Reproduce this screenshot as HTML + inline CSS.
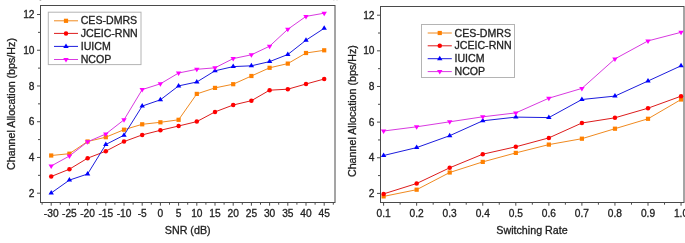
<!DOCTYPE html>
<html><head><meta charset="utf-8"><title>Channel Allocation</title>
<style>
html,body{margin:0;padding:0;background:#fff;}
body{width:685px;height:243px;overflow:hidden;}
svg{display:block;font-family:"Liberation Sans", sans-serif;font-size:10.2px;fill:#222;filter:blur(0.4px);}
svg text{fill:#222;stroke:#222;stroke-width:0.3px;}
svg .lg{font-size:10.6px;}
svg .al{font-size:10.72px;}
svg .yl{font-size:10.7px;}
</style></head>
<body>
<svg width="685" height="243" viewBox="0 0 685 243">
<rect width="685" height="243" fill="#fff"/>
<rect x="40.5" y="5.5" width="294.50" height="197.00" fill="none" stroke="#4a4a4a" stroke-width="1"/>
<line x1="37.0" y1="193.20" x2="40.5" y2="193.20" stroke="#4a4a4a" stroke-width="1"/>
<text x="34.5" y="196.80" text-anchor="end">2</text>
<line x1="38.0" y1="175.33" x2="40.5" y2="175.33" stroke="#4a4a4a" stroke-width="1"/>
<line x1="37.0" y1="157.46" x2="40.5" y2="157.46" stroke="#4a4a4a" stroke-width="1"/>
<text x="34.5" y="161.06" text-anchor="end">4</text>
<line x1="38.0" y1="139.59" x2="40.5" y2="139.59" stroke="#4a4a4a" stroke-width="1"/>
<line x1="37.0" y1="121.72" x2="40.5" y2="121.72" stroke="#4a4a4a" stroke-width="1"/>
<text x="34.5" y="125.32" text-anchor="end">6</text>
<line x1="38.0" y1="103.85" x2="40.5" y2="103.85" stroke="#4a4a4a" stroke-width="1"/>
<line x1="37.0" y1="85.98" x2="40.5" y2="85.98" stroke="#4a4a4a" stroke-width="1"/>
<text x="34.5" y="89.58" text-anchor="end">8</text>
<line x1="38.0" y1="68.11" x2="40.5" y2="68.11" stroke="#4a4a4a" stroke-width="1"/>
<line x1="37.0" y1="50.24" x2="40.5" y2="50.24" stroke="#4a4a4a" stroke-width="1"/>
<text x="34.5" y="53.84" text-anchor="end">10</text>
<line x1="38.0" y1="32.37" x2="40.5" y2="32.37" stroke="#4a4a4a" stroke-width="1"/>
<line x1="37.0" y1="14.50" x2="40.5" y2="14.50" stroke="#4a4a4a" stroke-width="1"/>
<text x="34.5" y="18.10" text-anchor="end">12</text>
<line x1="51.20" y1="202.5" x2="51.20" y2="205.7" stroke="#4a4a4a" stroke-width="1"/>
<text x="51.20" y="216.6" text-anchor="middle">-30</text>
<line x1="69.40" y1="202.5" x2="69.40" y2="205.7" stroke="#4a4a4a" stroke-width="1"/>
<text x="69.40" y="216.6" text-anchor="middle">-25</text>
<line x1="87.60" y1="202.5" x2="87.60" y2="205.7" stroke="#4a4a4a" stroke-width="1"/>
<text x="87.60" y="216.6" text-anchor="middle">-20</text>
<line x1="105.80" y1="202.5" x2="105.80" y2="205.7" stroke="#4a4a4a" stroke-width="1"/>
<text x="105.80" y="216.6" text-anchor="middle">-15</text>
<line x1="124.00" y1="202.5" x2="124.00" y2="205.7" stroke="#4a4a4a" stroke-width="1"/>
<text x="124.00" y="216.6" text-anchor="middle">-10</text>
<line x1="142.20" y1="202.5" x2="142.20" y2="205.7" stroke="#4a4a4a" stroke-width="1"/>
<text x="142.20" y="216.6" text-anchor="middle">-5</text>
<line x1="160.40" y1="202.5" x2="160.40" y2="205.7" stroke="#4a4a4a" stroke-width="1"/>
<text x="160.40" y="216.6" text-anchor="middle">0</text>
<line x1="178.60" y1="202.5" x2="178.60" y2="205.7" stroke="#4a4a4a" stroke-width="1"/>
<text x="178.60" y="216.6" text-anchor="middle">5</text>
<line x1="196.80" y1="202.5" x2="196.80" y2="205.7" stroke="#4a4a4a" stroke-width="1"/>
<text x="196.80" y="216.6" text-anchor="middle">10</text>
<line x1="215.00" y1="202.5" x2="215.00" y2="205.7" stroke="#4a4a4a" stroke-width="1"/>
<text x="215.00" y="216.6" text-anchor="middle">15</text>
<line x1="233.20" y1="202.5" x2="233.20" y2="205.7" stroke="#4a4a4a" stroke-width="1"/>
<text x="233.20" y="216.6" text-anchor="middle">20</text>
<line x1="251.40" y1="202.5" x2="251.40" y2="205.7" stroke="#4a4a4a" stroke-width="1"/>
<text x="251.40" y="216.6" text-anchor="middle">25</text>
<line x1="269.60" y1="202.5" x2="269.60" y2="205.7" stroke="#4a4a4a" stroke-width="1"/>
<text x="269.60" y="216.6" text-anchor="middle">30</text>
<line x1="287.80" y1="202.5" x2="287.80" y2="205.7" stroke="#4a4a4a" stroke-width="1"/>
<text x="287.80" y="216.6" text-anchor="middle">35</text>
<line x1="306.00" y1="202.5" x2="306.00" y2="205.7" stroke="#4a4a4a" stroke-width="1"/>
<text x="306.00" y="216.6" text-anchor="middle">40</text>
<line x1="324.20" y1="202.5" x2="324.20" y2="205.7" stroke="#4a4a4a" stroke-width="1"/>
<text x="324.20" y="216.6" text-anchor="middle">45</text>
<line x1="42.10" y1="202.5" x2="42.10" y2="204.7" stroke="#4a4a4a" stroke-width="1"/>
<line x1="60.30" y1="202.5" x2="60.30" y2="204.7" stroke="#4a4a4a" stroke-width="1"/>
<line x1="78.50" y1="202.5" x2="78.50" y2="204.7" stroke="#4a4a4a" stroke-width="1"/>
<line x1="96.70" y1="202.5" x2="96.70" y2="204.7" stroke="#4a4a4a" stroke-width="1"/>
<line x1="114.90" y1="202.5" x2="114.90" y2="204.7" stroke="#4a4a4a" stroke-width="1"/>
<line x1="133.10" y1="202.5" x2="133.10" y2="204.7" stroke="#4a4a4a" stroke-width="1"/>
<line x1="151.30" y1="202.5" x2="151.30" y2="204.7" stroke="#4a4a4a" stroke-width="1"/>
<line x1="169.50" y1="202.5" x2="169.50" y2="204.7" stroke="#4a4a4a" stroke-width="1"/>
<line x1="187.70" y1="202.5" x2="187.70" y2="204.7" stroke="#4a4a4a" stroke-width="1"/>
<line x1="205.90" y1="202.5" x2="205.90" y2="204.7" stroke="#4a4a4a" stroke-width="1"/>
<line x1="224.10" y1="202.5" x2="224.10" y2="204.7" stroke="#4a4a4a" stroke-width="1"/>
<line x1="242.30" y1="202.5" x2="242.30" y2="204.7" stroke="#4a4a4a" stroke-width="1"/>
<line x1="260.50" y1="202.5" x2="260.50" y2="204.7" stroke="#4a4a4a" stroke-width="1"/>
<line x1="278.70" y1="202.5" x2="278.70" y2="204.7" stroke="#4a4a4a" stroke-width="1"/>
<line x1="296.90" y1="202.5" x2="296.90" y2="204.7" stroke="#4a4a4a" stroke-width="1"/>
<line x1="315.10" y1="202.5" x2="315.10" y2="204.7" stroke="#4a4a4a" stroke-width="1"/>
<line x1="333.30" y1="202.5" x2="333.30" y2="204.7" stroke="#4a4a4a" stroke-width="1"/>
<polyline points="51.20,155.50 69.40,153.70 87.60,141.50 105.80,137.20 124.00,129.70 142.20,124.30 160.40,122.30 178.60,119.80 196.80,93.90 215.00,87.90 233.20,84.20 251.40,76.00 269.60,67.80 287.80,63.60 306.00,53.00 324.20,50.30" fill="none" stroke="#f08a20" stroke-width="1" stroke-linejoin="round"/>
<rect x="49.10" y="153.40" width="4.2" height="4.2" fill="#ff8000"/>
<rect x="67.30" y="151.60" width="4.2" height="4.2" fill="#ff8000"/>
<rect x="85.50" y="139.40" width="4.2" height="4.2" fill="#ff8000"/>
<rect x="103.70" y="135.10" width="4.2" height="4.2" fill="#ff8000"/>
<rect x="121.90" y="127.60" width="4.2" height="4.2" fill="#ff8000"/>
<rect x="140.10" y="122.20" width="4.2" height="4.2" fill="#ff8000"/>
<rect x="158.30" y="120.20" width="4.2" height="4.2" fill="#ff8000"/>
<rect x="176.50" y="117.70" width="4.2" height="4.2" fill="#ff8000"/>
<rect x="194.70" y="91.80" width="4.2" height="4.2" fill="#ff8000"/>
<rect x="212.90" y="85.80" width="4.2" height="4.2" fill="#ff8000"/>
<rect x="231.10" y="82.10" width="4.2" height="4.2" fill="#ff8000"/>
<rect x="249.30" y="73.90" width="4.2" height="4.2" fill="#ff8000"/>
<rect x="267.50" y="65.70" width="4.2" height="4.2" fill="#ff8000"/>
<rect x="285.70" y="61.50" width="4.2" height="4.2" fill="#ff8000"/>
<rect x="303.90" y="50.90" width="4.2" height="4.2" fill="#ff8000"/>
<rect x="322.10" y="48.20" width="4.2" height="4.2" fill="#ff8000"/>
<polyline points="51.20,176.50 69.40,169.20 87.60,158.20 105.80,151.20 124.00,141.60 142.20,134.90 160.40,130.30 178.60,126.00 196.80,121.60 215.00,111.90 233.20,105.00 251.40,100.70 269.60,90.20 287.80,89.20 306.00,84.00 324.20,79.00" fill="none" stroke="#dd1c1c" stroke-width="1" stroke-linejoin="round"/>
<circle cx="51.20" cy="176.50" r="2.25" fill="#ff0000"/>
<circle cx="69.40" cy="169.20" r="2.25" fill="#ff0000"/>
<circle cx="87.60" cy="158.20" r="2.25" fill="#ff0000"/>
<circle cx="105.80" cy="151.20" r="2.25" fill="#ff0000"/>
<circle cx="124.00" cy="141.60" r="2.25" fill="#ff0000"/>
<circle cx="142.20" cy="134.90" r="2.25" fill="#ff0000"/>
<circle cx="160.40" cy="130.30" r="2.25" fill="#ff0000"/>
<circle cx="178.60" cy="126.00" r="2.25" fill="#ff0000"/>
<circle cx="196.80" cy="121.60" r="2.25" fill="#ff0000"/>
<circle cx="215.00" cy="111.90" r="2.25" fill="#ff0000"/>
<circle cx="233.20" cy="105.00" r="2.25" fill="#ff0000"/>
<circle cx="251.40" cy="100.70" r="2.25" fill="#ff0000"/>
<circle cx="269.60" cy="90.20" r="2.25" fill="#ff0000"/>
<circle cx="287.80" cy="89.20" r="2.25" fill="#ff0000"/>
<circle cx="306.00" cy="84.00" r="2.25" fill="#ff0000"/>
<circle cx="324.20" cy="79.00" r="2.25" fill="#ff0000"/>
<polyline points="51.20,193.00 69.40,180.10 87.60,174.00 105.80,144.50 124.00,135.20 142.20,106.10 160.40,99.80 178.60,85.90 196.80,82.00 215.00,70.80 233.20,66.60 251.40,65.80 269.60,61.60 287.80,54.50 306.00,40.20 324.20,28.30" fill="none" stroke="#1c1cdd" stroke-width="1" stroke-linejoin="round"/>
<path d="M51.20 190.00L53.90 194.50L48.50 194.50Z" fill="#0000ff"/>
<path d="M69.40 177.10L72.10 181.60L66.70 181.60Z" fill="#0000ff"/>
<path d="M87.60 171.00L90.30 175.50L84.90 175.50Z" fill="#0000ff"/>
<path d="M105.80 141.50L108.50 146.00L103.10 146.00Z" fill="#0000ff"/>
<path d="M124.00 132.20L126.70 136.70L121.30 136.70Z" fill="#0000ff"/>
<path d="M142.20 103.10L144.90 107.60L139.50 107.60Z" fill="#0000ff"/>
<path d="M160.40 96.80L163.10 101.30L157.70 101.30Z" fill="#0000ff"/>
<path d="M178.60 82.90L181.30 87.40L175.90 87.40Z" fill="#0000ff"/>
<path d="M196.80 79.00L199.50 83.50L194.10 83.50Z" fill="#0000ff"/>
<path d="M215.00 67.80L217.70 72.30L212.30 72.30Z" fill="#0000ff"/>
<path d="M233.20 63.60L235.90 68.10L230.50 68.10Z" fill="#0000ff"/>
<path d="M251.40 62.80L254.10 67.30L248.70 67.30Z" fill="#0000ff"/>
<path d="M269.60 58.60L272.30 63.10L266.90 63.10Z" fill="#0000ff"/>
<path d="M287.80 51.50L290.50 56.00L285.10 56.00Z" fill="#0000ff"/>
<path d="M306.00 37.20L308.70 41.70L303.30 41.70Z" fill="#0000ff"/>
<path d="M324.20 25.30L326.90 29.80L321.50 29.80Z" fill="#0000ff"/>
<polyline points="51.20,166.00 69.40,156.00 87.60,141.80 105.80,134.00 124.00,119.80 142.20,89.60 160.40,83.80 178.60,73.00 196.80,69.30 215.00,67.80 233.20,58.60 251.40,54.80 269.60,46.20 287.80,29.30 306.00,16.40 324.20,13.20" fill="none" stroke="#d83ae0" stroke-width="1" stroke-linejoin="round"/>
<path d="M51.20 169.00L53.90 164.50L48.50 164.50Z" fill="#ff00ff"/>
<path d="M69.40 159.00L72.10 154.50L66.70 154.50Z" fill="#ff00ff"/>
<path d="M87.60 144.80L90.30 140.30L84.90 140.30Z" fill="#ff00ff"/>
<path d="M105.80 137.00L108.50 132.50L103.10 132.50Z" fill="#ff00ff"/>
<path d="M124.00 122.80L126.70 118.30L121.30 118.30Z" fill="#ff00ff"/>
<path d="M142.20 92.60L144.90 88.10L139.50 88.10Z" fill="#ff00ff"/>
<path d="M160.40 86.80L163.10 82.30L157.70 82.30Z" fill="#ff00ff"/>
<path d="M178.60 76.00L181.30 71.50L175.90 71.50Z" fill="#ff00ff"/>
<path d="M196.80 72.30L199.50 67.80L194.10 67.80Z" fill="#ff00ff"/>
<path d="M215.00 70.80L217.70 66.30L212.30 66.30Z" fill="#ff00ff"/>
<path d="M233.20 61.60L235.90 57.10L230.50 57.10Z" fill="#ff00ff"/>
<path d="M251.40 57.80L254.10 53.30L248.70 53.30Z" fill="#ff00ff"/>
<path d="M269.60 49.20L272.30 44.70L266.90 44.70Z" fill="#ff00ff"/>
<path d="M287.80 32.30L290.50 27.80L285.10 27.80Z" fill="#ff00ff"/>
<path d="M306.00 19.40L308.70 14.90L303.30 14.90Z" fill="#ff00ff"/>
<path d="M324.20 16.20L326.90 11.70L321.50 11.70Z" fill="#ff00ff"/>
<rect x="48.3" y="12.2" width="92.7" height="52.4" fill="#fff" stroke="#b4b4b4" stroke-width="1"/>
<line x1="54" y1="20.8" x2="78" y2="20.8" stroke="#f08a20" stroke-width="1"/>
<rect x="63.90" y="18.70" width="4.2" height="4.2" fill="#ff8000"/>
<text x="80.7" y="24.400000000000002" class="lg">CES-DMRS</text>
<line x1="54" y1="33.4" x2="78" y2="33.4" stroke="#dd1c1c" stroke-width="1"/>
<circle cx="66.00" cy="33.40" r="2.25" fill="#ff0000"/>
<text x="80.7" y="37.0" class="lg">JCEIC-RNN</text>
<line x1="54" y1="46.4" x2="78" y2="46.4" stroke="#1c1cdd" stroke-width="1"/>
<path d="M66.00 43.40L68.70 47.90L63.30 47.90Z" fill="#0000ff"/>
<text x="80.7" y="50.0" class="lg">IUICM</text>
<line x1="54" y1="59.5" x2="78" y2="59.5" stroke="#d83ae0" stroke-width="1"/>
<path d="M66.00 62.50L68.70 58.00L63.30 58.00Z" fill="#ff00ff"/>
<text x="80.7" y="63.1" class="lg">NCOP</text>
<text x="187.7" y="233.8" text-anchor="middle" class="al">SNR (dB)</text>
<text transform="translate(15.4 104) rotate(-90)" text-anchor="middle" class="yl">Channel Allocation (bps/Hz)</text>
<rect x="380.5" y="6.5" width="303.50" height="196.00" fill="none" stroke="#4a4a4a" stroke-width="1"/>
<line x1="377.0" y1="193.40" x2="380.5" y2="193.40" stroke="#4a4a4a" stroke-width="1"/>
<text x="374.5" y="197.00" text-anchor="end">2</text>
<line x1="378.0" y1="175.58" x2="380.5" y2="175.58" stroke="#4a4a4a" stroke-width="1"/>
<line x1="377.0" y1="157.76" x2="380.5" y2="157.76" stroke="#4a4a4a" stroke-width="1"/>
<text x="374.5" y="161.36" text-anchor="end">4</text>
<line x1="378.0" y1="139.94" x2="380.5" y2="139.94" stroke="#4a4a4a" stroke-width="1"/>
<line x1="377.0" y1="122.12" x2="380.5" y2="122.12" stroke="#4a4a4a" stroke-width="1"/>
<text x="374.5" y="125.72" text-anchor="end">6</text>
<line x1="378.0" y1="104.30" x2="380.5" y2="104.30" stroke="#4a4a4a" stroke-width="1"/>
<line x1="377.0" y1="86.48" x2="380.5" y2="86.48" stroke="#4a4a4a" stroke-width="1"/>
<text x="374.5" y="90.08" text-anchor="end">8</text>
<line x1="378.0" y1="68.66" x2="380.5" y2="68.66" stroke="#4a4a4a" stroke-width="1"/>
<line x1="377.0" y1="50.84" x2="380.5" y2="50.84" stroke="#4a4a4a" stroke-width="1"/>
<text x="374.5" y="54.44" text-anchor="end">10</text>
<line x1="378.0" y1="33.02" x2="380.5" y2="33.02" stroke="#4a4a4a" stroke-width="1"/>
<line x1="377.0" y1="15.20" x2="380.5" y2="15.20" stroke="#4a4a4a" stroke-width="1"/>
<text x="374.5" y="18.80" text-anchor="end">12</text>
<line x1="383.60" y1="202.5" x2="383.60" y2="205.7" stroke="#4a4a4a" stroke-width="1"/>
<text x="383.60" y="216.6" text-anchor="middle">0.1</text>
<line x1="416.65" y1="202.5" x2="416.65" y2="205.7" stroke="#4a4a4a" stroke-width="1"/>
<text x="416.65" y="216.6" text-anchor="middle">0.2</text>
<line x1="449.70" y1="202.5" x2="449.70" y2="205.7" stroke="#4a4a4a" stroke-width="1"/>
<text x="449.70" y="216.6" text-anchor="middle">0.3</text>
<line x1="482.75" y1="202.5" x2="482.75" y2="205.7" stroke="#4a4a4a" stroke-width="1"/>
<text x="482.75" y="216.6" text-anchor="middle">0.4</text>
<line x1="515.80" y1="202.5" x2="515.80" y2="205.7" stroke="#4a4a4a" stroke-width="1"/>
<text x="515.80" y="216.6" text-anchor="middle">0.5</text>
<line x1="548.85" y1="202.5" x2="548.85" y2="205.7" stroke="#4a4a4a" stroke-width="1"/>
<text x="548.85" y="216.6" text-anchor="middle">0.6</text>
<line x1="581.90" y1="202.5" x2="581.90" y2="205.7" stroke="#4a4a4a" stroke-width="1"/>
<text x="581.90" y="216.6" text-anchor="middle">0.7</text>
<line x1="614.95" y1="202.5" x2="614.95" y2="205.7" stroke="#4a4a4a" stroke-width="1"/>
<text x="614.95" y="216.6" text-anchor="middle">0.8</text>
<line x1="648.00" y1="202.5" x2="648.00" y2="205.7" stroke="#4a4a4a" stroke-width="1"/>
<text x="648.00" y="216.6" text-anchor="middle">0.9</text>
<line x1="681.05" y1="202.5" x2="681.05" y2="205.7" stroke="#4a4a4a" stroke-width="1"/>
<text x="681.05" y="216.6" text-anchor="middle">1.0</text>
<line x1="400.13" y1="202.5" x2="400.13" y2="204.7" stroke="#4a4a4a" stroke-width="1"/>
<line x1="433.18" y1="202.5" x2="433.18" y2="204.7" stroke="#4a4a4a" stroke-width="1"/>
<line x1="466.23" y1="202.5" x2="466.23" y2="204.7" stroke="#4a4a4a" stroke-width="1"/>
<line x1="499.28" y1="202.5" x2="499.28" y2="204.7" stroke="#4a4a4a" stroke-width="1"/>
<line x1="532.33" y1="202.5" x2="532.33" y2="204.7" stroke="#4a4a4a" stroke-width="1"/>
<line x1="565.38" y1="202.5" x2="565.38" y2="204.7" stroke="#4a4a4a" stroke-width="1"/>
<line x1="598.42" y1="202.5" x2="598.42" y2="204.7" stroke="#4a4a4a" stroke-width="1"/>
<line x1="631.47" y1="202.5" x2="631.47" y2="204.7" stroke="#4a4a4a" stroke-width="1"/>
<line x1="664.52" y1="202.5" x2="664.52" y2="204.7" stroke="#4a4a4a" stroke-width="1"/>
<polyline points="383.60,196.40 416.65,189.70 449.70,172.50 482.75,161.90 515.80,152.90 548.85,144.60 581.90,138.70 614.95,128.70 648.00,118.80 681.05,99.50" fill="none" stroke="#f08a20" stroke-width="1" stroke-linejoin="round"/>
<rect x="381.50" y="194.30" width="4.2" height="4.2" fill="#ff8000"/>
<rect x="414.55" y="187.60" width="4.2" height="4.2" fill="#ff8000"/>
<rect x="447.60" y="170.40" width="4.2" height="4.2" fill="#ff8000"/>
<rect x="480.65" y="159.80" width="4.2" height="4.2" fill="#ff8000"/>
<rect x="513.70" y="150.80" width="4.2" height="4.2" fill="#ff8000"/>
<rect x="546.75" y="142.50" width="4.2" height="4.2" fill="#ff8000"/>
<rect x="579.80" y="136.60" width="4.2" height="4.2" fill="#ff8000"/>
<rect x="612.85" y="126.60" width="4.2" height="4.2" fill="#ff8000"/>
<rect x="645.90" y="116.70" width="4.2" height="4.2" fill="#ff8000"/>
<rect x="678.95" y="97.40" width="4.2" height="4.2" fill="#ff8000"/>
<polyline points="383.60,193.90 416.65,183.50 449.70,167.80 482.75,154.20 515.80,146.80 548.85,137.90 581.90,123.00 614.95,117.80 648.00,108.20 681.05,96.20" fill="none" stroke="#dd1c1c" stroke-width="1" stroke-linejoin="round"/>
<circle cx="383.60" cy="193.90" r="2.25" fill="#ff0000"/>
<circle cx="416.65" cy="183.50" r="2.25" fill="#ff0000"/>
<circle cx="449.70" cy="167.80" r="2.25" fill="#ff0000"/>
<circle cx="482.75" cy="154.20" r="2.25" fill="#ff0000"/>
<circle cx="515.80" cy="146.80" r="2.25" fill="#ff0000"/>
<circle cx="548.85" cy="137.90" r="2.25" fill="#ff0000"/>
<circle cx="581.90" cy="123.00" r="2.25" fill="#ff0000"/>
<circle cx="614.95" cy="117.80" r="2.25" fill="#ff0000"/>
<circle cx="648.00" cy="108.20" r="2.25" fill="#ff0000"/>
<circle cx="681.05" cy="96.20" r="2.25" fill="#ff0000"/>
<polyline points="383.60,155.50 416.65,147.60 449.70,135.70 482.75,120.80 515.80,117.10 548.85,117.60 581.90,99.50 614.95,96.10 648.00,81.00 681.05,65.80" fill="none" stroke="#1c1cdd" stroke-width="1" stroke-linejoin="round"/>
<path d="M383.60 152.50L386.30 157.00L380.90 157.00Z" fill="#0000ff"/>
<path d="M416.65 144.60L419.35 149.10L413.95 149.10Z" fill="#0000ff"/>
<path d="M449.70 132.70L452.40 137.20L447.00 137.20Z" fill="#0000ff"/>
<path d="M482.75 117.80L485.45 122.30L480.05 122.30Z" fill="#0000ff"/>
<path d="M515.80 114.10L518.50 118.60L513.10 118.60Z" fill="#0000ff"/>
<path d="M548.85 114.60L551.55 119.10L546.15 119.10Z" fill="#0000ff"/>
<path d="M581.90 96.50L584.60 101.00L579.20 101.00Z" fill="#0000ff"/>
<path d="M614.95 93.10L617.65 97.60L612.25 97.60Z" fill="#0000ff"/>
<path d="M648.00 78.00L650.70 82.50L645.30 82.50Z" fill="#0000ff"/>
<path d="M681.05 62.80L683.75 67.30L678.35 67.30Z" fill="#0000ff"/>
<polyline points="383.60,131.00 416.65,126.80 449.70,121.80 482.75,116.80 515.80,112.90 548.85,98.20 581.90,88.40 614.95,58.90 648.00,40.90 681.05,32.30" fill="none" stroke="#d83ae0" stroke-width="1" stroke-linejoin="round"/>
<path d="M383.60 134.00L386.30 129.50L380.90 129.50Z" fill="#ff00ff"/>
<path d="M416.65 129.80L419.35 125.30L413.95 125.30Z" fill="#ff00ff"/>
<path d="M449.70 124.80L452.40 120.30L447.00 120.30Z" fill="#ff00ff"/>
<path d="M482.75 119.80L485.45 115.30L480.05 115.30Z" fill="#ff00ff"/>
<path d="M515.80 115.90L518.50 111.40L513.10 111.40Z" fill="#ff00ff"/>
<path d="M548.85 101.20L551.55 96.70L546.15 96.70Z" fill="#ff00ff"/>
<path d="M581.90 91.40L584.60 86.90L579.20 86.90Z" fill="#ff00ff"/>
<path d="M614.95 61.90L617.65 57.40L612.25 57.40Z" fill="#ff00ff"/>
<path d="M648.00 43.90L650.70 39.40L645.30 39.40Z" fill="#ff00ff"/>
<path d="M681.05 35.30L683.75 30.80L678.35 30.80Z" fill="#ff00ff"/>
<rect x="421.5" y="24.5" width="93" height="53" fill="#fff" stroke="#b4b4b4" stroke-width="1"/>
<line x1="427.7" y1="33.0" x2="451.8" y2="33.0" stroke="#f08a20" stroke-width="1"/>
<rect x="437.65" y="30.90" width="4.2" height="4.2" fill="#ff8000"/>
<text x="454.5" y="36.6" class="lg">CES-DMRS</text>
<line x1="427.7" y1="45.8" x2="451.8" y2="45.8" stroke="#dd1c1c" stroke-width="1"/>
<circle cx="439.75" cy="45.80" r="2.25" fill="#ff0000"/>
<text x="454.5" y="49.4" class="lg">JCEIC-RNN</text>
<line x1="427.7" y1="58.7" x2="451.8" y2="58.7" stroke="#1c1cdd" stroke-width="1"/>
<path d="M439.75 55.70L442.45 60.20L437.05 60.20Z" fill="#0000ff"/>
<text x="454.5" y="62.300000000000004" class="lg">IUICM</text>
<line x1="427.7" y1="71.6" x2="451.8" y2="71.6" stroke="#d83ae0" stroke-width="1"/>
<path d="M439.75 74.60L442.45 70.10L437.05 70.10Z" fill="#ff00ff"/>
<text x="454.5" y="75.19999999999999" class="lg">NCOP</text>
<text x="532" y="233.6" text-anchor="middle" class="al">Switching Rate</text>
<text transform="translate(355.6 111.1) rotate(-90)" text-anchor="middle" class="yl">Channel Allocation (bps/Hz)</text>
<rect x="39.6" y="0" width="1.6" height="1" fill="#bbb"/>
<rect x="333.2" y="0" width="1.2" height="0.8" fill="#ddd"/>
<rect x="336.4" y="0" width="1.2" height="0.8" fill="#ddd"/>
</svg>
</body></html>
